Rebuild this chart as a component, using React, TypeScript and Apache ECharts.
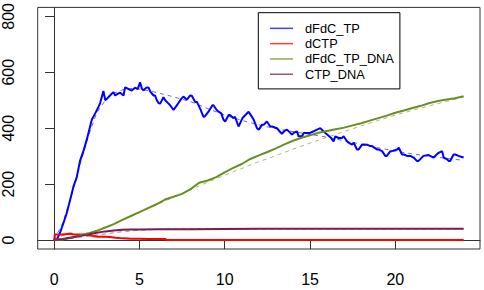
import React, { useEffect, useRef } from "react";
import * as echarts from "echarts";

const xTicks = [0, 5, 10, 15, 20];
const yTicks = [0, 200, 400, 600, 800];
const legendNames = ["dFdC_TP", "dCTP", "dFdC_TP_DNA", "CTP_DNA"];
const lineColors = ["#0000FF", "#FF0000", "#6B8E23", "#7D1A4E"];

// stochastic trajectories
const dFdC_TP = [
  [0, 0], [0.16, 2], [0.35, 26], [0.55, 61], [0.74, 96], [0.94, 143], [1.13, 190], [1.33, 225], [1.52, 283],
  [1.72, 318], [1.92, 360], [2.21, 430], [2.41, 453], [2.6, 476], [2.7, 490], [2.89, 533], [3.0, 500], [3.09, 505],
  [3.25, 515], [3.38, 523], [3.48, 529], [3.58, 517], [3.7, 522], [3.87, 527], [4.07, 517], [4.16, 546], [4.26, 543],
  [4.45, 537], [4.55, 535], [4.75, 545], [4.9, 540], [5.04, 564], [5.15, 540], [5.24, 536], [5.4, 545], [5.53, 546],
  [5.65, 530], [5.83, 517], [5.92, 517], [6.02, 500], [6.12, 490], [6.22, 488], [6.41, 511], [6.51, 500], [6.71, 488],
  [6.8, 482], [7.0, 465], [7.15, 478], [7.3, 491], [7.45, 505], [7.58, 513], [7.78, 502], [7.98, 517], [8.07, 516],
  [8.27, 494], [8.37, 494], [8.56, 470], [8.75, 441], [8.82, 441], [9.05, 459], [9.28, 482], [9.34, 482], [9.53, 465],
  [9.64, 459], [9.8, 453], [9.93, 430], [10.03, 424], [10.23, 447], [10.3, 447], [10.52, 436], [10.6, 441], [10.81, 406],
  [11.04, 436], [11.11, 441], [11.4, 459], [11.55, 445], [11.7, 430], [11.89, 400], [12.0, 395], [12.18, 412], [12.28, 412],
  [12.47, 424], [12.67, 406], [12.77, 406], [13.06, 400], [13.2, 390], [13.35, 380], [13.5, 390], [13.65, 395], [13.94, 377],
  [14.04, 383], [14.23, 389], [14.33, 371], [14.53, 371], [14.63, 383], [14.82, 383], [15.0, 383], [15.21, 389], [15.41, 395],
  [15.6, 400], [15.9, 383], [16.19, 368], [16.38, 353], [16.48, 371], [16.68, 365], [16.87, 365], [16.97, 371], [17.17, 353],
  [17.26, 348], [17.46, 341], [17.56, 348], [17.75, 324], [17.85, 324], [18.05, 341], [18.14, 342], [18.34, 341], [18.53, 336],
  [18.63, 336], [18.92, 324], [19.0, 324], [19.22, 318], [19.41, 301], [19.5, 301], [19.71, 318], [19.8, 318], [20.1, 324],
  [20.2, 330], [20.39, 306], [20.5, 306], [20.68, 301], [20.88, 301], [21.07, 295], [21.26, 283], [21.36, 283], [21.65, 301],
  [21.95, 304], [22.24, 295], [22.53, 312], [22.74, 318], [22.83, 295], [23.03, 289], [23.12, 283], [23.22, 283], [23.41, 306],
  [23.51, 306], [23.7, 301], [23.9, 297], [24.0, 295],
];
const dCTP = [
  [0, 0], [0.05, 20], [0.5, 20], [0.8, 22], [1.0, 23], [1.1, 20], [1.6, 20], [2.0, 18], [2.3, 14], [2.6, 12], [3.0, 12],
  [3.3, 11], [3.6, 8], [4.0, 6], [4.5, 5], [5.0, 5], [5.5, 4], [6.0, 4], [6.5, 4], [6.6, 0], [24, 0],
];
const dFdC_TP_DNA = [
  [0, 0], [0.5, 2], [1, 8], [1.5, 16], [2, 24], [2.5, 33], [3, 45], [3.5, 57], [4, 72], [4.5, 86], [5, 100], [5.5, 114],
  [6, 128], [6.5, 145], [7, 155], [7.5, 165], [8, 182], [8.5, 205], [9, 213], [9.5, 225], [10, 242], [10.5, 258],
  [11, 272], [11.5, 290], [12, 303], [12.5, 315], [13, 328], [13.5, 342], [14, 355], [14.5, 366], [15, 375], [15.5, 384],
  [16, 390], [16.5, 396], [17, 402], [17.5, 410], [18, 418], [18.5, 427], [19, 436], [19.5, 445], [20, 455], [20.5, 463],
  [21, 472], [21.5, 480], [22, 490], [22.5, 497], [23, 503], [23.5, 507], [24, 514],
];
const CTP_DNA = [
  [0, 0], [0.5, 4], [1, 9], [1.5, 14], [2, 20], [2.5, 26], [3, 31], [3.5, 34], [4, 37], [4.5, 38], [5, 38], [6, 39],
  [8, 39], [12, 40], [16, 40], [20, 40], [24, 40],
];

// deterministic (dashed) solutions
const dFdC_TP_det = [
  [0, 0], [0.5, 60], [1, 155], [1.5, 265], [2, 370], [2.5, 455], [3, 500], [3.5, 525], [4, 537], [4.5, 542], [5, 540],
  [6, 528], [7, 512], [8, 495], [9, 470], [10, 447], [11, 428], [12, 412], [13, 398], [14, 388], [15, 378], [16, 368],
  [17, 355], [18, 343], [19, 330], [20, 318], [21, 308], [22, 300], [23, 292], [24, 285],
];
const dCTP_det = [
  [0, 0], [0.3, 12], [0.6, 18], [1, 20], [1.5, 19], [2, 17], [2.5, 14], [3, 11], [3.5, 9], [4, 7], [5, 4], [6, 2.5],
  [7, 1.5], [8, 1], [10, 0.5], [12, 0], [24, 0],
];
const dFdC_TP_DNA_det = [
  [0, 0], [1, 8], [2, 22], [3, 43], [4, 70], [5, 98], [6, 126], [7, 153], [8, 180], [9, 207], [10, 232], [11, 256],
  [12, 280], [13, 302], [14, 325], [15, 347], [16, 368], [17, 388], [18, 408], [19, 428], [20, 447], [21, 464], [22, 480],
  [23, 496], [24, 511],
];
const CTP_DNA_det = [
  [0, 0], [1, 6], [2, 14], [3, 22], [4, 30], [5, 35], [6, 38], [7, 39], [8, 40], [24, 40],
];

const stochastic = [dFdC_TP, dCTP, dFdC_TP_DNA, CTP_DNA];
const deterministic = [dFdC_TP_det, dCTP_det, dFdC_TP_DNA_det, CTP_DNA_det];

const FONT = "'Liberation Sans', Arial, Helvetica, sans-serif";

export default function App() {
  const ref = useRef<HTMLDivElement>(null);
  useEffect(() => {
    if (!ref.current) return;
    const chart = echarts.init(ref.current, null, { renderer: "svg" });
    const series: any[] = [];
    stochastic.forEach((d, i) => {
      series.push({
        name: legendNames[i],
        type: "line",
        data: d,
        showSymbol: false,
        symbol: "none",
        color: lineColors[i],
        itemStyle: { color: lineColors[i] },
        lineStyle: { color: lineColors[i], width: 2 },
        z: 2,
      });
    });
    deterministic.forEach((d, i) => {
      series.push({
        name: legendNames[i] + "_det",
        type: "line",
        data: d,
        showSymbol: false,
        symbol: "none",
        color: lineColors[i],
        lineStyle: { color: lineColors[i], width: 1, type: [4, 4], opacity: 0.6 },
        z: 3,
      });
    });
    chart.setOption({
      animation: false,
      backgroundColor: "#ffffff",
      grid: {
        left: 37.7,
        right: 4,
        top: 4,
        bottom: 41,
        show: true,
        borderColor: "#333",
        borderWidth: 1,
        backgroundColor: "transparent",
      },
      legend: {
        data: legendNames.map((n, i) => ({
          name: n,
          itemStyle: { color: lineColors[i], borderWidth: 0, opacity: 0.75 },
          lineStyle: { color: lineColors[i], width: 0 },
        })),
        orient: "vertical",
        left: 258.3,
        top: 12.7,
        padding: [8, 6, 7, 11.7],
        itemGap: 0,
        itemWidth: 23,
        itemHeight: 1.5,
        icon: "rect",
        borderColor: "#000",
        borderWidth: 1,
        backgroundColor: "#fff",
        selectedMode: false,
        textStyle: {
          fontFamily: FONT,
          fontSize: 12.8,
          color: "#000",
          lineHeight: 15.3,
          padding: [0, 0, 0, 7],
        },
      },
      xAxis: {
        type: "value",
        min: -0.96,
        max: 24.96,
        axisLine: { show: true, lineStyle: { color: "#333", width: 1 } },
        axisTick: { show: true, length: 9, customValues: xTicks, lineStyle: { color: "#333" } },
        axisLabel: {
          customValues: xTicks,
          margin: 22,
          fontFamily: FONT,
          fontSize: 16,
          color: "#000",
        },
        splitLine: { show: false },
      },
      yAxis: {
        type: "value",
        min: -32,
        max: 832,
        axisLine: { show: true, lineStyle: { color: "#333", width: 1 } },
        axisTick: { show: true, length: 9, customValues: yTicks, lineStyle: { color: "#333" } },
        axisLabel: {
          customValues: yTicks,
          rotate: 90,
          margin: 21,
          fontFamily: FONT,
          fontSize: 16,
          color: "#000",
        },
        splitLine: { show: false },
      },
      series,
    });
    return () => chart.dispose();
  }, []);
  return <div ref={ref} style={{ width: 484, height: 290, position: "absolute", left: 0, top: 0 }} />;
}
